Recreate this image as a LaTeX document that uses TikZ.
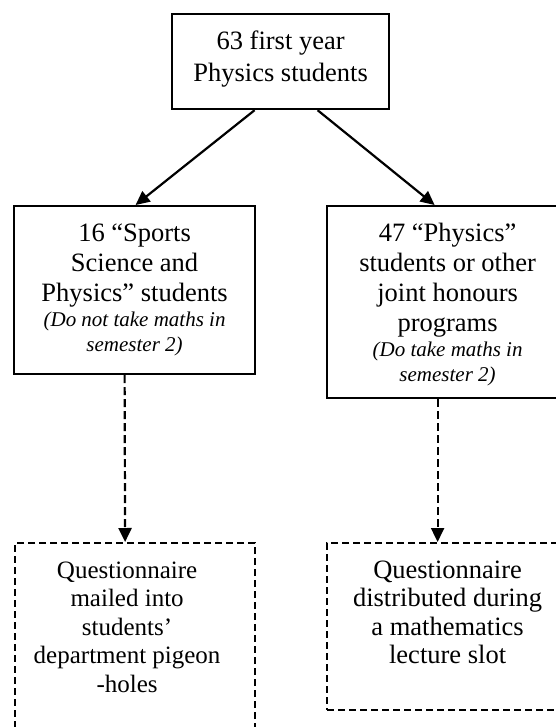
\documentclass[tikz,border=0pt]{standalone}
\usepackage{fontspec}
\setmainfont{Liberation Serif}
\usetikzlibrary{arrows.meta}
\tikzset{
    box/.style={draw,line width=2.2pt,inner sep=0pt,anchor=north west},
    dbox/.style={box,dash pattern=on 7pt off 4pt},
    link/.style={line width=2.2pt,-{Triangle[length=14pt,width=13pt]}},
    dlink/.style={link,dash pattern=on 8pt off 4pt},
}
\newcommand{\boxtext}[5][30]{\parbox[t][#4pt][t]{#3pt}{\centering\fontsize{#2}{#1}\selectfont\rule{0pt}{35pt}#5\par}}
\newcommand{\note}[1]{\par{\fontsize{21}{25}\selectfont\itshape #1\par}}

\begin{document}
\begin{tikzpicture}[x=1pt,y=-1pt]
        \useasboundingbox (0,0) rectangle (555,727);

        % solid boxes
        \node [box] (cohort) at (171,13) {\boxtext[32]{26.5}{217}{95}{63 first year\\Physics students}};
        \node [box] (sports) at (13,205) {\boxtext{26.5}{241}{168}{16 “Sports\\Science and\\Physics” students\note{(Do not take maths in\\semester 2)}}};
        \node [box] (physics) at (326,205) {\boxtext{26.5}{241}{192}{47 “Physics”\\students or other\\joint honours\\programs\note{(Do take maths in\\semester 2)}}};

        % dashed boxes
        \node [dbox] (mailed) at (14,542) {\boxtext[28.5]{25}{224}{200}{Questionnaire\\mailed into\\students’\\department pigeon\\-holes}\kern16pt};
        \node [dbox] (lecture) at (326,542) {\boxtext[28.5]{26.5}{241}{167}{Questionnaire\\distributed during\\a mathematics\\lecture slot}};

        \draw [link] ([xshift=-26pt]cohort.south) -- ([xshift=1pt]sports.north);
        \draw [link] ([xshift=37pt]cohort.south) -- ([xshift=-13pt]physics.north);
        \draw [dlink] ([xshift=-10pt]sports.south) -- ([xshift=-10pt]mailed.north);
        \draw [dlink] ([xshift=-10pt]physics.south) -- ([xshift=-10pt]lecture.north);
    \end{tikzpicture}
\end{document}
